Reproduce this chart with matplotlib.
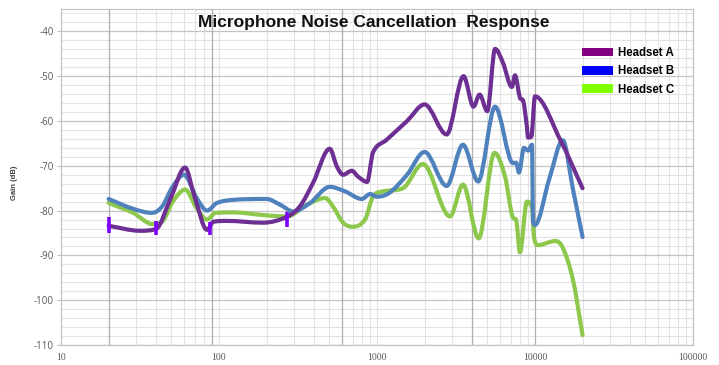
import numpy as np
import matplotlib
matplotlib.use('Agg')
import matplotlib.pyplot as plt
from matplotlib.path import Path
from matplotlib.patches import PathPatch, Patch
from matplotlib.ticker import LogLocator, MultipleLocator, FixedLocator

# ---------------- data ----------------
series_names = ['Headset A', 'Headset B', 'Headset C']

freq_a = [20, 31.6, 40, 49, 61, 70, 84, 92, 112, 190, 269, 326, 394, 502, 558, 610,
          693, 758, 865, 944, 1150, 1550, 2000, 2760, 3530, 4080, 4460, 4990, 5590,
          6270, 7140, 7470, 8030, 8420, 8870, 9040, 9480, 10000, 14450, 20000]
gain_a = [-83.4, -84.5, -84.1, -77.6, -70.4, -76.9, -84.3, -82.5, -82.3, -82.7, -81.4, -79.0,
          -73.8, -66.2, -70.2, -72.0, -71.1, -72.4, -73.6, -67.0, -64.2, -60.0, -56.3, -63.0,
          -50.0, -56.8, -54.1, -57.8, -43.9, -47.0, -52.4, -49.8, -54.8, -55.5, -61.0, -63.7,
          -63.5, -54.5, -64.2, -75.0]

freq_b = [20, 28.6, 37.6, 43.6, 51, 60, 72, 84, 97, 123, 200, 244, 295, 377, 502, 627,
          803, 903, 1000, 1200, 1550, 2000, 2760, 3500, 4370, 5590, 7260, 7590, 7920,
          8510, 9040, 9570, 9720, 10000, 12300, 15000, 17400, 20000]
gain_b = [-77.4, -79.6, -80.5, -79.1, -74.6, -72.0, -77.1, -80.0, -78.3, -77.6, -77.4, -78.7,
          -80.2, -78.3, -74.7, -75.7, -77.4, -76.3, -76.9, -76.0, -72.0, -66.9, -74.5, -65.3,
          -73.5, -56.8, -69.4, -69.3, -71.5, -66.0, -66.6, -65.3, -82.5, -83.2, -73.0, -64.3,
          -75.3, -85.9]

freq_c = [20, 28.6, 38, 43.6, 51, 61, 72, 84, 95, 123, 190, 269, 360, 470, 525, 610,
          700, 840, 944, 1092, 1460, 1950, 2900, 3500, 4400, 5550, 6460, 7260, 7590, 8030,
          8890, 9570, 9860, 10450, 13400, 15000, 17400, 20000]
gain_c = [-78.3, -80.5, -83.0, -82.5, -78.0, -75.3, -79.4, -82.0, -80.5, -80.4, -81.0, -81.3,
          -78.7, -77.2, -79.0, -82.7, -83.6, -82.0, -76.8, -75.7, -75.0, -69.6, -81.3, -74.2,
          -86.2, -67.1, -72.4, -81.6, -82.0, -89.3, -78.0, -79.4, -86.0, -87.7, -86.8, -88.3,
          -95.5, -107.8]

err_freq = [20, 40, 88, 270]
err_gain = [-83.2, -83.9, -84.0, -82.0]
err_size = [1.8, 1.6, 1.5, 1.7]

x_ticks = [10, 100, 1000, 10000, 100000]
x_tick_labels = ['10', '100', '1000', '10000', '100000']
y_ticks = [-110, -100, -90, -80, -70, -60, -50, -40]
dark_grid_x = [20, 90, 600, 4000, 10000]

line_colors = ['#6E2F93', '#4F81BD', '#8CC84B']
legend_colors = ['#800080', '#0000FF', '#7FFF00']
err_color = '#7F00FF'


def smooth_path(xs, ys):
    """Smooth Bezier path through the data points (in log-x space)."""
    xs = np.asarray(xs, float)
    y = np.asarray(ys, float)
    lx = np.log10(xs)
    h = np.diff(lx)
    d = np.diff(y) / h
    n = len(lx)
    m = np.zeros(n)
    m[0] = d[0]
    m[-1] = d[-1]
    for i in range(1, n - 1):
        if d[i - 1] * d[i] <= 0:
            m[i] = 0.0
        else:
            mi = (y[i + 1] - y[i - 1]) / (lx[i + 1] - lx[i - 1])
            lim = 3 * min(abs(d[i - 1]), abs(d[i]))
            m[i] = np.sign(mi) * min(abs(mi), lim)
    verts = [(xs[0], y[0])]
    codes = [Path.MOVETO]
    for i in range(n - 1):
        c1 = (10 ** (lx[i] + h[i] / 3), y[i] + m[i] * h[i] / 3)
        c2 = (10 ** (lx[i + 1] - h[i] / 3), y[i + 1] - m[i + 1] * h[i] / 3)
        verts += [c1, c2, (xs[i + 1], y[i + 1])]
        codes += [Path.CURVE4] * 3
    return Path(verts, codes)


fig = plt.figure(figsize=(7.19, 3.65), dpi=100)
ax = fig.add_axes([61 / 719, 1 - 345 / 365, (693 - 61) / 719, (345 - 9) / 365])

ax.set_xscale('log')
ax.set_xlim(10, 100000)
ax.set_ylim(-110, -35)

# grid
ax.xaxis.set_major_locator(FixedLocator(x_ticks))
ax.xaxis.set_minor_locator(LogLocator(base=10, subs=np.arange(2, 10)))
ax.yaxis.set_major_locator(FixedLocator(y_ticks))
ax.yaxis.set_minor_locator(MultipleLocator(2))
ax.grid(which='minor', color='#E3E3E3', linewidth=0.8)
ax.grid(which='major', axis='y', color='#C4C4C4', linewidth=0.9)
ax.grid(which='major', axis='x', color='#E3E3E3', linewidth=0.8)
for xv in dark_grid_x:
    ax.axvline(xv, color='#B0B0B0', linewidth=0.9, zorder=0.6)
ax.set_axisbelow(True)

for s in ax.spines.values():
    s.set_color('#C4C4C4')
    s.set_linewidth(0.9)

ax.set_xticklabels(x_tick_labels)
ax.tick_params(axis='x', which='both', length=0, pad=6, labelsize=7, labelcolor='#595959')
for lbl in ax.get_xticklabels():
    lbl.set_family('Liberation Serif')
ax.tick_params(axis='y', which='major', length=3, width=0.8, color='#BFBFBF', pad=2,
               labelsize=7, labelcolor='#595959')
ax.tick_params(axis='y', which='minor', length=0)
ax.set_yticklabels([str(v) for v in y_ticks])
for lbl in ax.get_yticklabels():
    lbl.set_family('Open Sans')

# curves
for (fx, gy, col, z) in [(freq_c, gain_c, line_colors[2], 3),
                         (freq_b, gain_b, line_colors[1], 4),
                         (freq_a, gain_a, line_colors[0], 5)]:
    p = PathPatch(smooth_path(fx, gy), facecolor='none', edgecolor=col, linewidth=3,
                  capstyle='round', joinstyle='round', transform=ax.transData, zorder=z)
    ax.add_patch(p)

ax.errorbar(err_freq, err_gain, yerr=err_size, fmt='none', ecolor=err_color,
            elinewidth=2.6, capsize=0, zorder=6)

# title
fig.text(374 / 719, 1 - 22 / 365, 'Microphone Noise Cancellation  Response',
         ha='center', va='center', fontsize=12.5, fontweight='bold',
         family='Liberation Sans', color='#111111')

# y label
fig.text(14 / 719, 1 - 183 / 365, 'Gain (dB)', rotation=90, ha='center', va='center',
         fontsize=5.5, fontweight='bold', color='#404040', family='Liberation Sans')

# legend
handles = [Patch(facecolor=c, edgecolor='none', label=n) for c, n in zip(legend_colors, series_names)]
leg = ax.legend(handles=handles, loc='upper left', bbox_to_anchor=(582 / 719, 1 - 47 / 365),
                bbox_transform=fig.transFigure, frameon=False, borderpad=0, borderaxespad=0,
                handlelength=2.7, handleheight=0.8, handletextpad=0.4, labelspacing=0.55,
                prop={'family': 'Liberation Sans', 'weight': 'bold', 'size': 8.3})

fig.savefig('out.png', dpi=100)
